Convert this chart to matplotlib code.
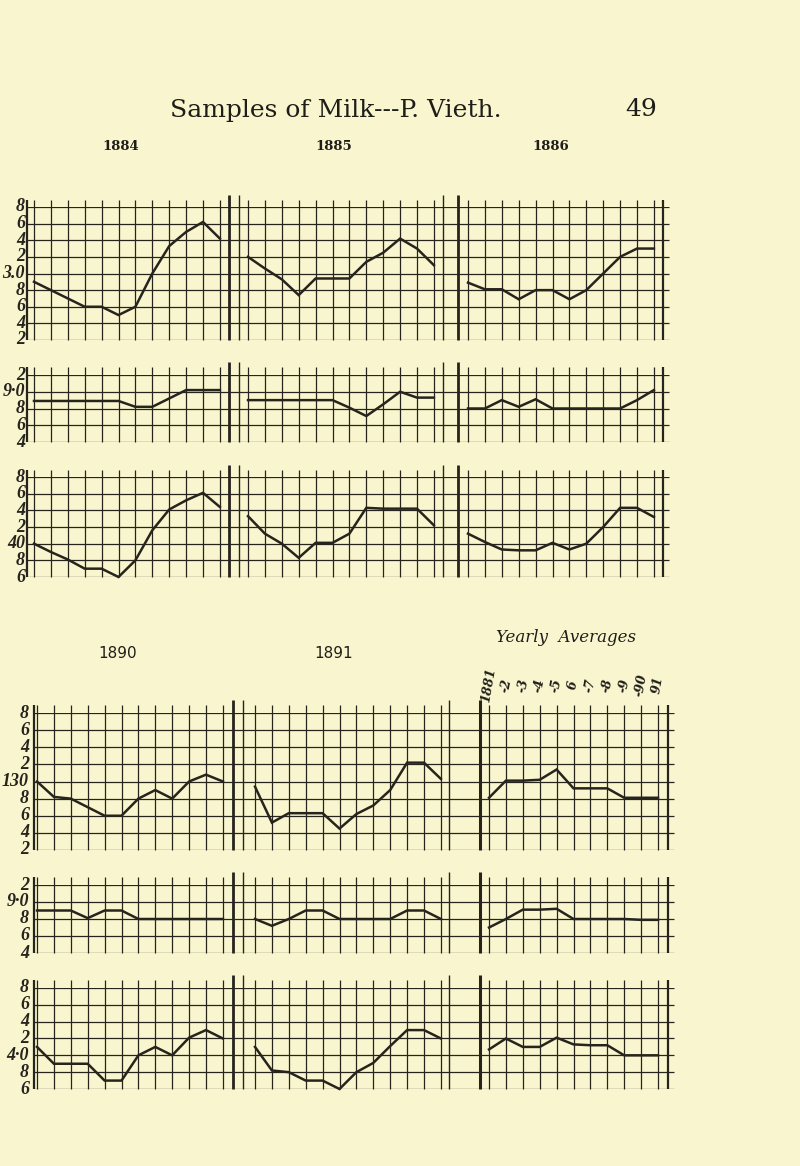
import numpy as np
import matplotlib.pyplot as plt

W, H = 800, 1166
PAPER = "#f9f6cf"
INK = "#26241d"
COL = 16.9  # one month column, px

# ---- readings off the sheet: total solids / solids not fat / fat, monthly ----
solids_1884 = [12.9, 12.8, 12.7, 12.6, 12.6, 12.5, 12.6, 13.0, 13.33, 13.5, 13.62, 13.42]
solids_1885 = [13.2, 13.06, 12.93, 12.74, 12.94, 12.94, 12.94, 13.14, 13.25, 13.42, 13.3, 13.1]
solids_1886 = [12.89, 12.81, 12.81, 12.69, 12.8, 12.8, 12.69, 12.8, 13.0, 13.2, 13.3, 13.3]

snf_1884 = [8.89, 8.89, 8.89, 8.89, 8.89, 8.89, 8.82, 8.82, 8.92, 9.02, 9.02, 9.02]
snf_1885 = [8.9, 8.9, 8.9, 8.9, 8.9, 8.9, 8.81, 8.71, 8.85, 9.0, 8.93, 8.93]
snf_1886 = [8.8, 8.8, 8.9, 8.82, 8.91, 8.8, 8.8, 8.8, 8.8, 8.8, 8.9, 9.02]

fat_1884 = [4.0, 3.9, 3.81, 3.7, 3.7, 3.6, 3.8, 4.16, 4.41, 4.52, 4.61, 4.44]
fat_1885 = [4.33, 4.12, 4.0, 3.83, 4.01, 4.01, 4.12, 4.43, 4.42, 4.42, 4.42, 4.22]
fat_1886 = [4.12, 4.02, 3.93, 3.92, 3.92, 4.01, 3.93, 4.0, 4.2, 4.43, 4.43, 4.32]

solids_1890 = [13.0, 12.82, 12.8, 12.7, 12.6, 12.6, 12.8, 12.9, 12.8, 13.0, 13.08, 13.0]
solids_1891 = [12.94, 12.52, 12.63, 12.63, 12.63, 12.45, 12.62, 12.72, 12.9, 13.22, 13.22, 13.03]
solids_avg = [12.81, 13.01, 13.01, 13.02, 13.14, 12.92, 12.92, 12.92, 12.81, 12.81, 12.81]

snf_1890 = [8.9, 8.9, 8.9, 8.81, 8.9, 8.9, 8.8, 8.8, 8.8, 8.8, 8.8, 8.8]
snf_1891 = [8.8, 8.72, 8.8, 8.9, 8.9, 8.8, 8.8, 8.8, 8.8, 8.9, 8.9, 8.8]
snf_avg = [8.7, 8.8, 8.91, 8.91, 8.92, 8.8, 8.8, 8.8, 8.8, 8.79, 8.79]

fat_1890 = [4.1, 3.9, 3.9, 3.9, 3.7, 3.7, 4.0, 4.1, 4.0, 4.21, 4.3, 4.2]
fat_1891 = [4.1, 3.82, 3.8, 3.7, 3.7, 3.6, 3.8, 3.91, 4.11, 4.3, 4.3, 4.2]
fat_avg = [4.07, 4.2, 4.1, 4.1, 4.21, 4.13, 4.12, 4.12, 4.0, 4.0, 4.0]

avg_years = ["1881", "-2", "-3", "-4", "-5", "6", "-7", "-8", "-9", "-90", "91"]

solids_ticks_a = ["8", "6", "4", "2", "3.0", "8", "6", "4", "2"]
solids_ticks_b = ["8", "6", "4", "2", "130", "8", "6", "4", "2"]
snf_ticks = ["2", "9·0", "8", "6", "4"]
fat_ticks_a = ["8", "6", "4", "2", "40", "8", "6"]
fat_ticks_b = ["8", "6", "4", "2", "4·0", "8", "6"]

fig = plt.figure(figsize=(W / 100, H / 100), dpi=100)
fig.patch.set_facecolor(PAPER)


def grid_row(top, bottom, lo, hi, labels, label_x, starts, counts, frame, seps):
    ax = fig.add_axes([0, 1 - bottom / H, 1, (bottom - top) / H])
    ax.set_xlim(0, W)
    ax.set_ylim(lo, hi)
    ax.axis("off")
    step = (hi - lo) / (len(labels) - 1)
    levels = np.linspace(hi, lo, len(labels))
    ax.hlines(levels, frame[0], frame[1] + 6, color=INK, lw=0.9)
    over = hi + 0.45 * step
    for s, n in zip(starts, counts):
        ax.vlines(s + COL * np.arange(n), lo, over, color=INK, lw=0.9, clip_on=False)
    ax.vlines(frame, lo, over, color=INK, lw=1.6, clip_on=False)
    for x, lw in seps:
        ax.vlines(x, lo, over + 0.3 * step, color=INK, lw=lw, clip_on=False)
    for lab, v in zip(labels, levels):
        ax.text(label_x, v, lab, ha="right", va="center", style="italic", fontweight="bold",
                family="Liberation Serif", fontsize=13, color=INK)
    return ax


def trace(ax, start, vals):
    xs = start + COL * np.arange(len(vals))
    ax.plot(xs, vals, color=INK, lw=1.8, solid_joinstyle="miter", clip_on=False)


# upper sheet: 1884-1886
up_starts = [34, 248, 468]
up_frame = [27, 663]
up_seps = [(229, 2.0), (239, 1.0), (443, 1.0), (458, 2.0)]
up_rows = [
    (207, 340, 12.2, 13.8, solids_ticks_a, [solids_1884, solids_1885, solids_1886]),
    (375, 442, 8.4, 9.2, snf_ticks, [snf_1884, snf_1885, snf_1886]),
    (477, 577, 3.6, 4.8, fat_ticks_a, [fat_1884, fat_1885, fat_1886]),
]
for top, bottom, lo, hi, labels, series in up_rows:
    ax = grid_row(top, bottom, lo, hi, labels, 25, up_starts, [12, 12, 12], up_frame, up_seps)
    for s, vals in zip(up_starts, series):
        trace(ax, s, vals)

# lower sheet: 1890, 1891, yearly averages
lo_starts = [37, 255, 489]
lo_frame = [34, 668]
lo_seps = [(233, 2.0), (243, 1.0), (449, 1.0), (480, 2.2)]
lo_rows = [
    (713, 850, 12.2, 13.8, solids_ticks_b, [solids_1890, solids_1891, solids_avg]),
    (885, 953, 8.4, 9.2, snf_ticks, [snf_1890, snf_1891, snf_avg]),
    (988, 1089, 3.6, 4.8, fat_ticks_b, [fat_1890, fat_1891, fat_avg]),
]
for top, bottom, lo, hi, labels, series in lo_rows:
    ax = grid_row(top, bottom, lo, hi, labels, 29, lo_starts, [12, 12, 11], lo_frame, lo_seps)
    for s, vals in zip(lo_starts, series):
        trace(ax, s, vals)

# page text
fig.text(336 / W, 1 - 110 / H, "Samples of Milk---P. Vieth.", ha="center", va="center",
         family="DejaVu Serif", fontsize=18, color="#1e1d18")
fig.text(641 / W, 1 - 110 / H, "49", ha="center", va="center",
         family="DejaVu Serif", fontsize=18, color="#1e1d18")
for lab, x in zip(["1884", "1885", "1886"], [121, 334, 551]):
    fig.text(x / W, 1 - 147 / H, lab, ha="center", va="center", family="DejaVu Serif",
             fontweight="bold", fontsize=9.5, color="#1e1d18")
for lab, x in zip(["1890", "1891"], [118, 334]):
    fig.text(x / W, 1 - 653 / H, lab, ha="center", va="center", family="DejaVu Sans",
             fontsize=11, color="#1e1d18")
fig.text(566 / W, 1 - 637 / H, "Yearly  Averages", ha="center", va="center",
         family="DejaVu Serif", style="italic", fontsize=12, color="#1e1d18")
for i, lab in enumerate(avg_years):
    fig.text((lo_starts[2] + COL * i) / W, 1 - 685 / H, lab, ha="center", va="center",
             rotation=80, family="DejaVu Serif", style="italic", fontweight="bold",
             fontsize=9, color="#1e1d18")

fig.savefig("out.png", dpi=100, facecolor=PAPER)
